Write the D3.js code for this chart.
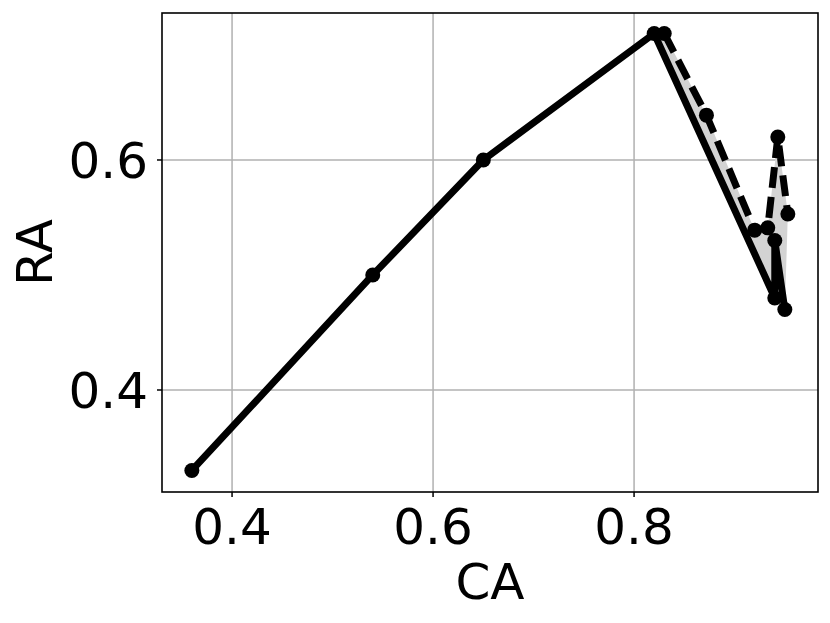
<!DOCTYPE html>
<html><head><meta charset="utf-8">
<script src="https://cdn.jsdelivr.net/npm/d3@7/dist/d3.min.js"></script>
<style>body{margin:0;background:#fff}svg{display:block}</style>
</head><body>
<svg id="c" width="830" height="623"></svg>
<script>
const solidCA = [0.36, 0.54, 0.65, 0.82, 0.94, 0.94, 0.95];
const solidRA = [0.33, 0.50, 0.60, 0.71, 0.48, 0.53, 0.47];
const dashCA = [0.83, 0.872, 0.92, 0.933, 0.943, 0.953];
const dashRA = [0.71, 0.639, 0.539, 0.541, 0.62, 0.553];
const xTicks = [0.4, 0.6, 0.8];
const yTicks = [0.4, 0.6];

const svg = d3.select("#c");
const L = 162, R = 818, T = 13, B = 492;
const x = d3.scaleLinear().domain([0.3303, 0.983]).range([L, R]);
const y = d3.scaleLinear().domain([0.3113, 0.7278]).range([B, T]);
const font = "DejaVu Sans";
const fs = 50;

// grid
svg.append("g").selectAll("line").data(xTicks).join("line")
  .attr("x1", d => x(d)).attr("x2", d => x(d)).attr("y1", T).attr("y2", B)
  .attr("stroke", "#b0b0b0").attr("stroke-width", 1.5);
svg.append("g").selectAll("line").data(yTicks).join("line")
  .attr("y1", d => y(d)).attr("y2", d => y(d)).attr("x1", L).attr("x2", R)
  .attr("stroke", "#b0b0b0").attr("stroke-width", 1.5);

const solid = solidCA.map((c, i) => [c, solidRA[i]]);
const dash = dashCA.map((c, i) => [c, dashRA[i]]);
const line = d3.line().x(d => x(d[0])).y(d => y(d[1]));

// fill between
const poly = dash.concat(solid.slice(3).reverse());
svg.append("path").attr("d", line(poly) + "Z").attr("fill", "#d3d3d3").attr("stroke", "none");

const g = svg.append("g");

g.append("path").attr("d", line(solid)).attr("fill", "none").attr("stroke", "#000")
  .attr("stroke-width", 7).attr("stroke-linejoin", "round");
g.append("path").attr("d", line(dash)).attr("fill", "none").attr("stroke", "#000")
  .attr("stroke-width", 7).attr("stroke-dasharray", "21,9");
g.selectAll("circle.s").data(solid).join("circle").attr("class", "s")
  .attr("cx", d => x(d[0])).attr("cy", d => y(d[1])).attr("r", 7.5).attr("fill", "#000");
g.selectAll("circle.d").data(dash).join("circle").attr("class", "d")
  .attr("cx", d => x(d[0])).attr("cy", d => y(d[1])).attr("r", 7.5).attr("fill", "#000");

// frame
svg.append("rect").attr("x", L).attr("y", T).attr("width", R - L).attr("height", B - T)
  .attr("fill", "none").attr("stroke", "#000").attr("stroke-width", 1.6);

// ticks
svg.append("g").selectAll("line").data(xTicks).join("line")
  .attr("x1", d => x(d)).attr("x2", d => x(d)).attr("y1", B).attr("y2", B + 5)
  .attr("stroke", "#000").attr("stroke-width", 1.5);
svg.append("g").selectAll("line").data(yTicks).join("line")
  .attr("y1", d => y(d)).attr("y2", d => y(d)).attr("x1", L - 5).attr("x2", L)
  .attr("stroke", "#000").attr("stroke-width", 1.5);

svg.append("g").selectAll("text").data(xTicks).join("text")
  .attr("x", d => x(d)).attr("y", 544).attr("text-anchor", "middle")
  .attr("font-family", font).attr("font-size", fs).text(d => d.toFixed(1));
svg.append("g").selectAll("text").data(yTicks).join("text")
  .attr("x", 148).attr("y", d => y(d)).attr("dy", "0.36em").attr("text-anchor", "end")
  .attr("font-family", font).attr("font-size", fs).text(d => d.toFixed(1));

svg.append("text").attr("x", (L + R) / 2).attr("y", 599).attr("text-anchor", "middle")
  .attr("font-family", font).attr("font-size", fs).text("CA");
svg.append("text").attr("transform", `translate(52,${(T + B) / 2}) rotate(-90)`)
  .attr("text-anchor", "middle").attr("font-family", font).attr("font-size", fs).text("RA");
</script>
</body></html>
